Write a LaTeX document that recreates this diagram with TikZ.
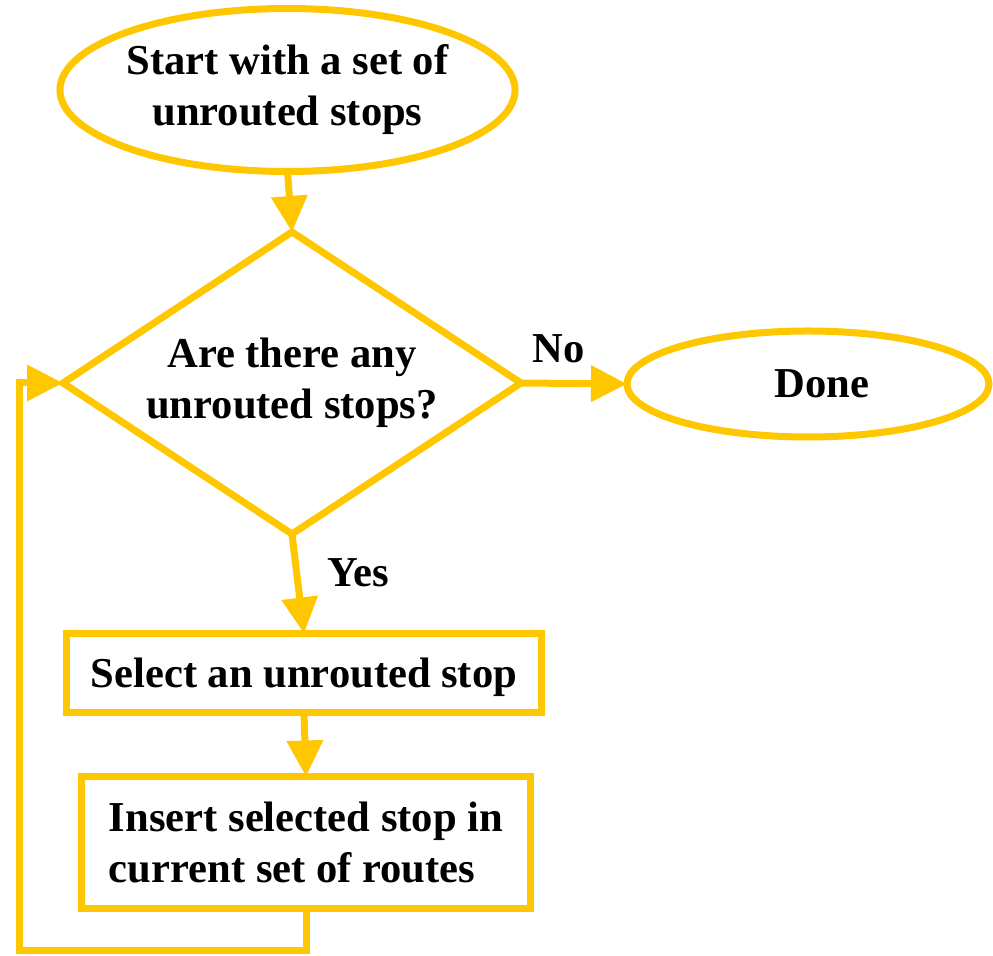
\documentclass[tikz,border=0pt]{standalone}
\usepackage{fontspec}
\setmainfont{Liberation Serif}
\usetikzlibrary{shapes.geometric,arrows.meta}
\definecolor{flowyellow}{HTML}{FFC700}
\begin{document}
\begin{tikzpicture}[x=0.5pt,y=-0.5pt,
  every node/.style={font=\fontsize{21.3}{25.5}\selectfont\bfseries, inner sep=0pt, outer sep=0pt},
  outline/.style={draw=flowyellow, line width=3.5pt},
  flow/.style={draw=flowyellow, line width=3.5pt, -{Triangle[length=18pt,width=17.5pt]}},
  ]
\useasboundingbox (0,0) rectangle (993,956);

% terminals, decision and process boxes
\node (start) [outline, ellipse, minimum width=206pt, minimum height=81.5pt, align=center]
  at (287.5,90) {Start with a set of\\unrouted stops};
\node (dec) [outline, diamond, aspect=1.52, minimum width=229pt, minimum height=151pt, align=center]
  at (292,383) {Are there any\\unrouted stops?};
\node (done) [outline, ellipse, minimum width=181pt, minimum height=53pt] at (808,384) {};
\node (donetext) at (822,384) {Done};
\node (sel) [outline, rectangle, minimum width=237.5pt, minimum height=39.5pt, text depth=0pt]
  at (304,673) {Select an unrouted stop};
\node (ins) [outline, rectangle, minimum width=224.5pt, minimum height=66pt, align=left]
  at (306,842.5) {Insert selected stop in\\current set of routes};

% branch labels
\node (no) at (559,349) {No};
\node (yes) at (358,573) {Yes};

% connectors
\draw[flow] (start.south) -- (dec.north);
\draw[flow] (dec.east) -- (done.west);
\draw[flow] (dec.south) -- (sel.north);
\draw[flow] (sel.south) -- (ins.north);

% loop back to the decision
\coordinate (loopcorner) at (19,951);
\draw[flow] (ins.south) |- (loopcorner) |- (dec.west);
\end{tikzpicture}
\end{document}
